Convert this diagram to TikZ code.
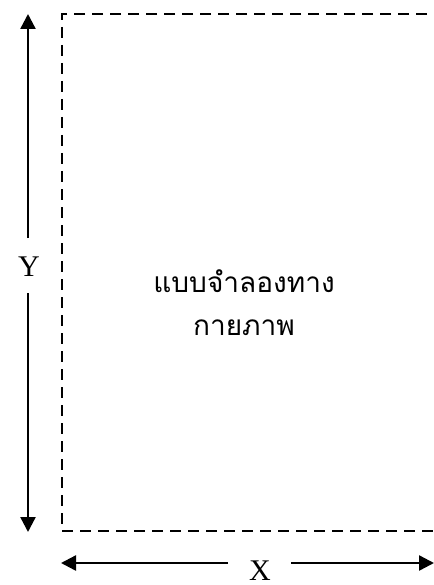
\documentclass[tikz,border=0pt]{standalone}
\usepackage{fontspec}
\setmainfont{Liberation Serif}
\newfontfamily\thaifont[Script=Thai]{Loma}
\usetikzlibrary{arrows.meta}
\begin{document}
\begin{tikzpicture}[x=1pt,y=-1pt,
  dim/.style={line width=2.4pt,-{Triangle[length=15pt,width=15pt]}},
  frame/.style={line width=2.8pt,dash pattern=on 11pt off 7pt},
  lbl/.style={font=\fontsize{30}{30}\selectfont,inner sep=0pt},
  thai/.style={font=\thaifont\fontsize{28}{28}\selectfont,inner sep=0pt}]
\useasboundingbox (0,0) rectangle (433,585);
\begin{scope}
\clip (0,0) rectangle (433,585);
\draw[frame] (445,14) -- (62,14) -- (62,531) -- (445,531);
\end{scope}
% Y dimension
\node[lbl] (ylab) at (29,267) {Y};
\coordinate (ytop) at (28,14);
\coordinate (ybot) at (28,532);
\coordinate (ya) at (28,238);
\coordinate (yb) at (28,293);
\draw[dim] (ya) -- (ytop);
\draw[dim] (yb) -- (ybot);
% X dimension
\node[lbl] (xlab) at (260,571) {X};
\coordinate (xl) at (61,563);
\coordinate (xr) at (434,563);
\coordinate (xa) at (228,563);
\coordinate (xb) at (291,563);
\draw[dim] (xa) -- (xl);
\draw[dim] (xb) -- (xr);
% text
\node[thai] (t1) at (244,281) {แบบจำลองทาง};
\node[thai] (t2) at (244,328) {กายภาพ};
\end{tikzpicture}
\end{document}
